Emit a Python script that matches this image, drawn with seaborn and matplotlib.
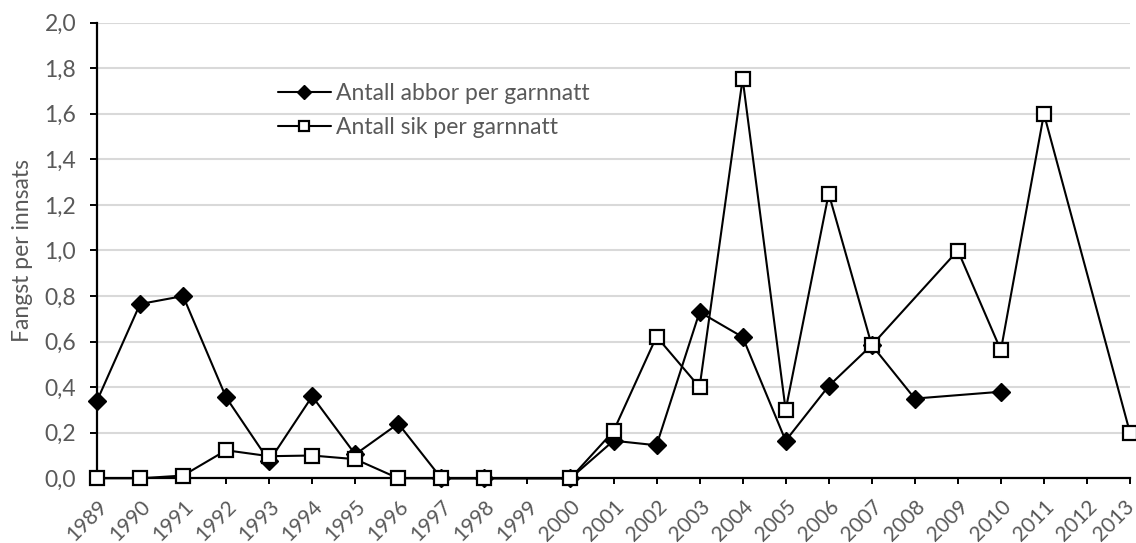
import numpy as np
import pandas as pd
import matplotlib
matplotlib.use("Agg")
import matplotlib.pyplot as plt
import matplotlib.transforms as mtransforms
import seaborn as sns
from matplotlib.ticker import FuncFormatter, MultipleLocator

years = [str(y) for y in range(1989, 2014)]
abbor = [0.34, 0.765, 0.80, 0.355, 0.075, 0.36, 0.105, 0.24, 0.0, 0.0, np.nan, 0.0,
         0.165, 0.145, 0.73, 0.62, 0.165, 0.405, 0.585, 0.35, np.nan, 0.38, np.nan, np.nan, np.nan]
sik = [0.0, 0.0, 0.012, 0.123, 0.097, 0.10, 0.084, 0.0, 0.0, 0.0, np.nan, 0.0,
       0.207, 0.622, 0.40, 1.754, 0.30, 1.25, 0.584, np.nan, 1.0, 0.562, 1.60, np.nan, 0.20]
label_abbor = "Antall abbor per garnnatt"
label_sik = "Antall sik per garnnatt"
y_label = "Fangst per innsats"

sns.set_theme(style="white")
plt.rcParams['font.family'] = ['Lato', 'DejaVu Sans']

df = pd.DataFrame({"pos": np.arange(len(years)), "year": years, "abbor": abbor, "sik": sik})

fig = plt.figure(figsize=(11.36, 5.43), dpi=100)
ax = fig.add_axes([97/1136, 1-478.3/543, (1130-97)/1136, (478.3-22.7)/543])

grey = "#595959"
fs = 16.5
d_a = df.dropna(subset=["abbor"])
d_s = df.dropna(subset=["sik"])
sns.lineplot(data=d_a, x="pos", y="abbor", ax=ax, color="black", linewidth=1.5,
             marker="D", markersize=9.5, markerfacecolor="black", markeredgecolor="black",
             markeredgewidth=1.0, label=label_abbor, clip_on=False, zorder=3)
sns.lineplot(data=d_s, x="pos", y="sik", ax=ax, color="black", linewidth=1.5,
             marker="s", markersize=10.5, markerfacecolor="white", markeredgecolor="black",
             markeredgewidth=1.6, label=label_sik, clip_on=False, zorder=4)

ax.set_xlim(0, len(years) - 1)
ax.set_ylim(0, 2.0)
ax.yaxis.set_major_locator(MultipleLocator(0.2))
ax.yaxis.set_major_formatter(FuncFormatter(lambda v, p: f"{v:.1f}".replace(".", ",")))
ax.set_xticks(np.arange(len(years)))
ax.set_xticklabels(years, rotation=45, ha="right", va="top", rotation_mode="anchor")

ax.grid(axis="y", color="#d9d9d9", linewidth=1.5)
ax.set_axisbelow(True)
for s in ["top", "right"]:
    ax.spines[s].set_visible(False)
for s in ["left", "bottom"]:
    ax.spines[s].set_color("black")
    ax.spines[s].set_linewidth(1.6)

ax.tick_params(axis="x", which="major", direction="out", length=4.5, width=1.4, color="black",
               labelsize=15, labelcolor=grey, pad=8.5, bottom=True)
ax.tick_params(axis="y", which="major", direction="out", length=5, width=1.4, color="black",
               labelsize=fs, labelcolor=grey, pad=10, left=True)
ax.set_xlabel("")
ax.set_ylabel(y_label, fontsize=fs, color=grey, labelpad=8)

# keep the last year label inside the figure, as the reference does
last = ax.get_xticklabels()[-1]
last.set_transform(last.get_transform() + mtransforms.ScaledTranslation(-6/100, 0, fig.dpi_scale_trans))

leg = ax.legend(loc="upper left", bbox_to_anchor=(278/1136, 1-83/543), bbox_transform=fig.transFigure,
                frameon=False, fontsize=fs, handlelength=2.3, handletextpad=0.25, labelspacing=0.55,
                markerscale=0.75, borderpad=0, borderaxespad=0)
for t in leg.get_texts():
    t.set_color(grey)

fig.savefig("out.png", dpi=100)
